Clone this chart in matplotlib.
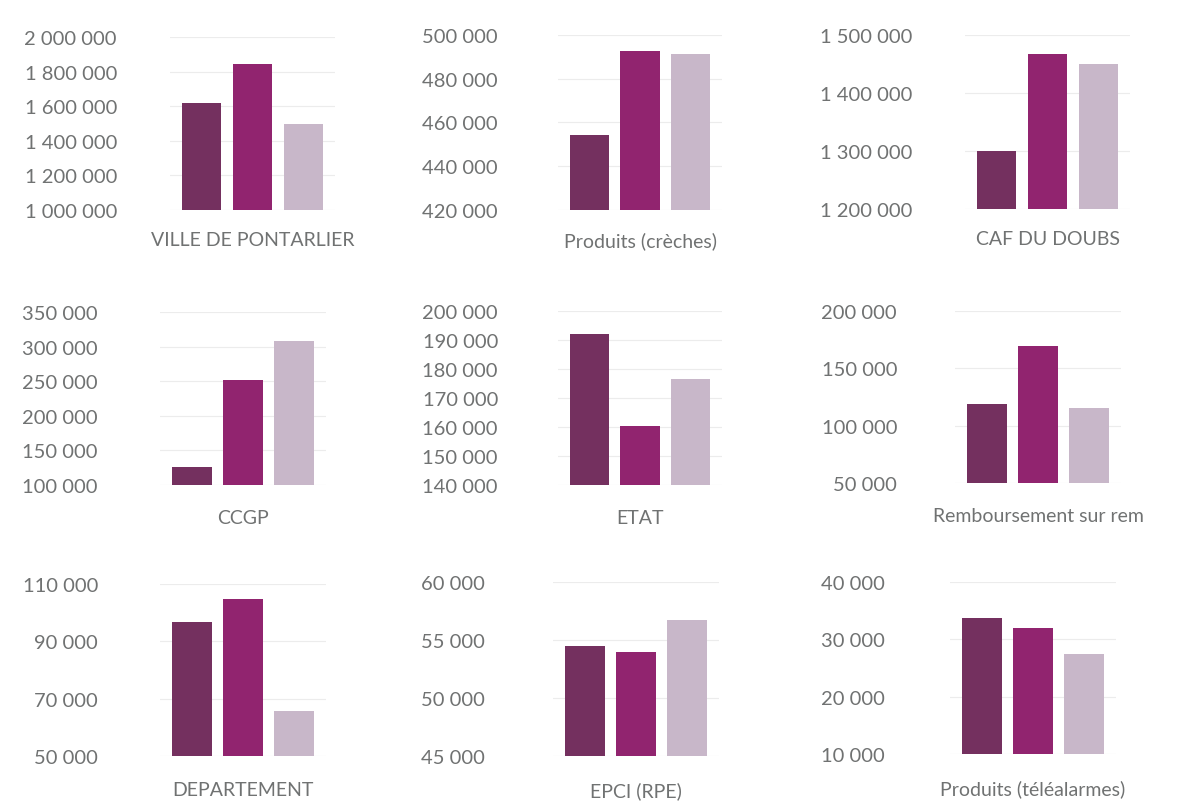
import numpy as np
from matplotlib import pyplot as plt

# categories of the 9 small charts (3 bars each)
categories = ["VILLE DE PONTARLIER", "Produits (crèches)", "CAF DU DOUBS",
              "CCGP", "ETAT", "Remboursement sur rem",
              "DEPARTEMENT", "EPCI (RPE)", "Produits (téléalarmes)"]

serie1 = [1620000, 454300, 1300000, 126700, 192100, 119000, 96900, 54480, 33800]
serie2 = [1844000, 492800, 1467600, 252000, 160200, 169300, 104800, 54000, 31900]
serie3 = [1498000, 491100, 1450400, 308000, 176600, 115800, 65700, 56760, 27500]

# axis bounds (min, max, step)
y_min = [1000000, 420000, 1200000, 100000, 140000, 50000, 50000, 45000, 10000]
y_max = [2000000, 500000, 1500000, 350000, 200000, 200000, 110000, 60000, 40000]
y_step = [200000, 20000, 100000, 50000, 10000, 50000, 20000, 5000, 10000]

colors = ["#74305f", "#91246f", "#c8b7c9"]
text_color = "#707272"

W, H = 1182, 812

# panel boxes in pixels: left, right, top, bottom, right end of the tick labels
boxes = [
    (170, 335, 38, 211, 117), (558, 722, 36, 211, 498), (965, 1130, 36, 210, 912),
    (160, 326, 313, 486, 98), (558, 722, 312, 486, 498), (955, 1121, 312, 484, 897),
    (160, 326, 585, 757, 98), (553, 719, 583, 757, 485), (950, 1116, 583, 755, 885),
]
label_pad = [15, 15, 15, 17, 17, 17, 18, 18, 18]

plt.rcParams['font.family'] = ['Lato', 'DejaVu Sans']

fig = plt.figure(figsize=(W / 100, H / 100), dpi=100)

def fmt(v):
    return "{:,.0f}".format(v).replace(",", " ")

for i in range(9):
    l, r, t, b, lab = boxes[i]
    ax = fig.add_axes([l / W, 1 - b / H, (r - l) / W, (b - t) / H])
    vals = [serie1[i], serie2[i], serie3[i]]
    ax.bar([-1, 0, 1], vals, width=0.78, color=colors, zorder=2)
    ax.set_xlim(-1.62, 1.62)
    ax.set_ylim(y_min[i], y_max[i])
    ticks = np.arange(y_min[i], y_max[i] + 1, y_step[i])
    ax.set_yticks(ticks)
    ax.set_yticklabels([fmt(v) for v in ticks])
    ax.yaxis.grid(True, color="#ececec", linewidth=0.8, zorder=0)
    ax.set_xticks([0])
    ax.set_xticklabels([categories[i]])
    for s in ax.spines.values():
        s.set_visible(False)
    ax.tick_params(axis='y', length=0, pad=(l - lab) * 0.72, labelsize=14.5, labelcolor=text_color)
    ax.tick_params(axis='x', length=0, pad=label_pad[i], labelsize=14, labelcolor=text_color)

plt.savefig("out.png", dpi=100)
